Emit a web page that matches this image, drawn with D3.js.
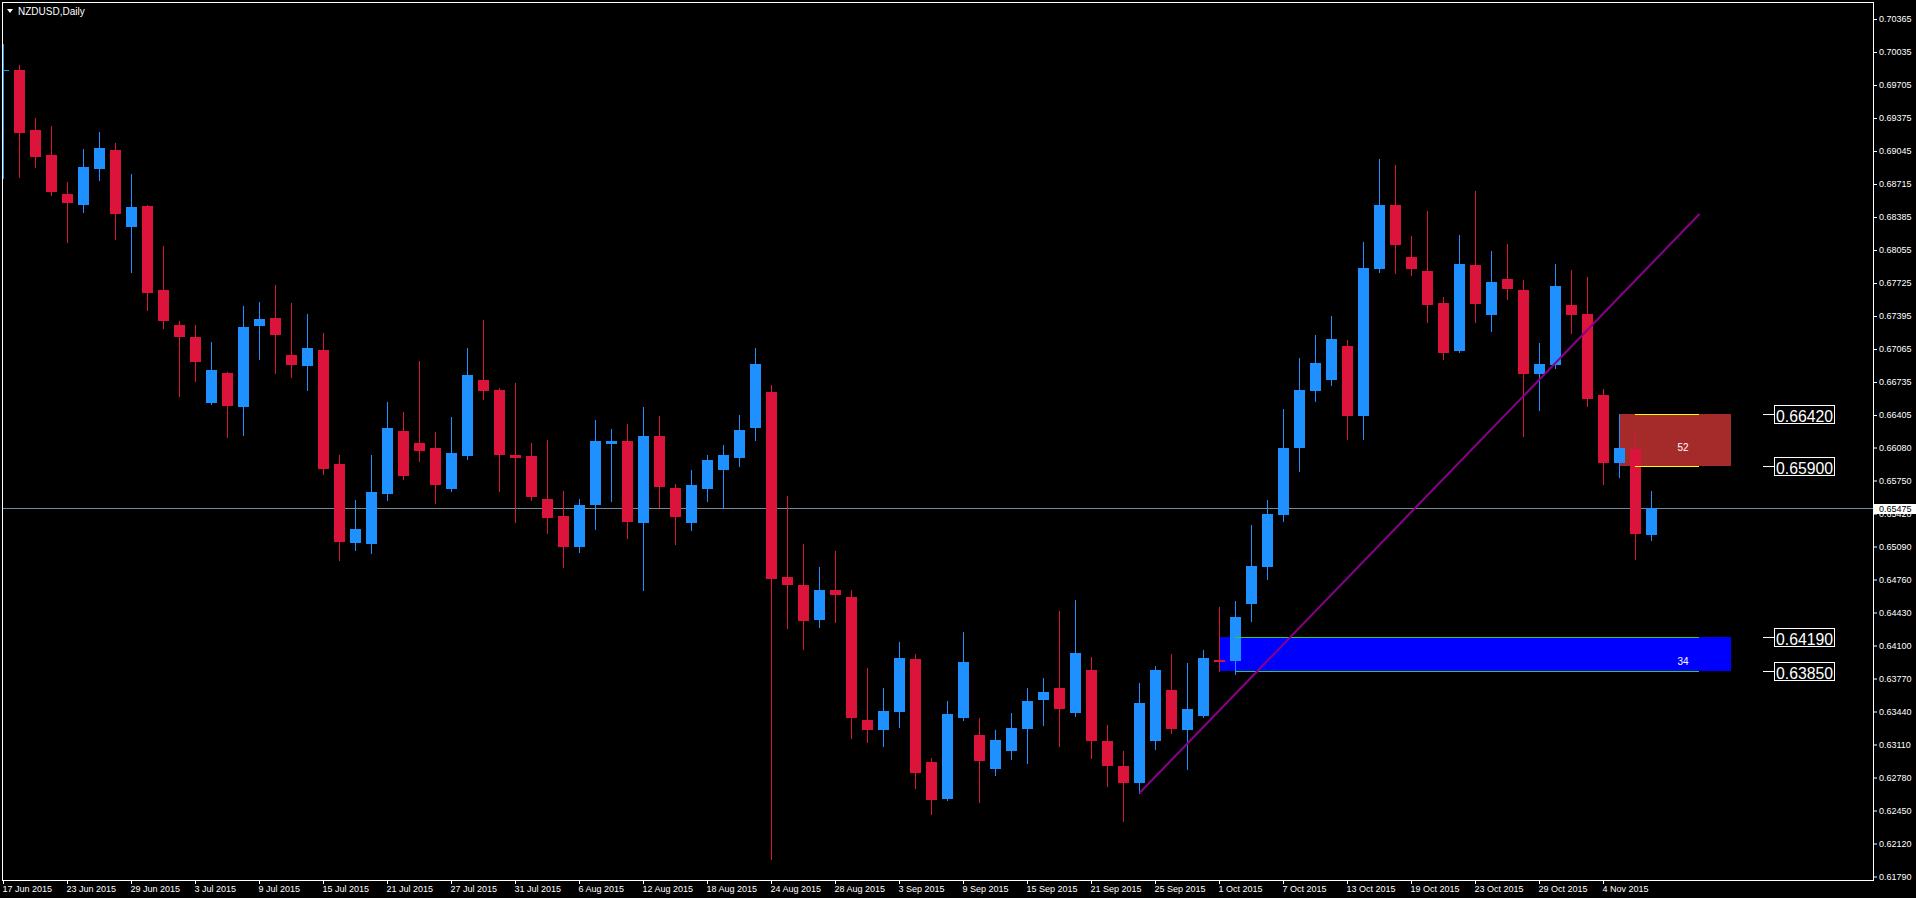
<!DOCTYPE html>
<html><head><meta charset="utf-8">
<script src="https://cdn.jsdelivr.net/npm/d3@7"></script>
<style>html,body{margin:0;padding:0;background:#000;overflow:hidden}svg{display:block}</style>
</head><body><svg id="c" width="1916" height="898"></svg>
<script>
const dates = [
"2015-06-17","2015-06-18","2015-06-19","2015-06-22","2015-06-23","2015-06-24","2015-06-25","2015-06-26","2015-06-29","2015-06-30",
"2015-07-01","2015-07-02","2015-07-03","2015-07-06","2015-07-07","2015-07-08","2015-07-09","2015-07-10","2015-07-13","2015-07-14",
"2015-07-15","2015-07-16","2015-07-17","2015-07-20","2015-07-21","2015-07-22","2015-07-23","2015-07-24","2015-07-27","2015-07-28",
"2015-07-29","2015-07-30","2015-07-31","2015-08-03","2015-08-04","2015-08-05","2015-08-06","2015-08-07","2015-08-10","2015-08-11",
"2015-08-12","2015-08-13","2015-08-14","2015-08-17","2015-08-18","2015-08-19","2015-08-20","2015-08-21","2015-08-24","2015-08-25",
"2015-08-26","2015-08-27","2015-08-28","2015-08-31","2015-09-01","2015-09-02","2015-09-03","2015-09-04","2015-09-07","2015-09-08",
"2015-09-09","2015-09-10","2015-09-11","2015-09-14","2015-09-15","2015-09-16","2015-09-17","2015-09-18","2015-09-21","2015-09-22",
"2015-09-23","2015-09-24","2015-09-25","2015-09-28","2015-09-29","2015-09-30","2015-10-01","2015-10-02","2015-10-05","2015-10-06",
"2015-10-07","2015-10-08","2015-10-09","2015-10-12","2015-10-13","2015-10-14","2015-10-15","2015-10-16","2015-10-19","2015-10-20",
"2015-10-21","2015-10-22","2015-10-23","2015-10-26","2015-10-27","2015-10-28","2015-10-29","2015-10-30","2015-11-02","2015-11-03",
"2015-11-04","2015-11-05","2015-11-06","2015-11-09"];

const opens = [
0.69850,0.69855,0.69255,0.69005,0.68615,0.68508,0.68868,0.69055,0.68288,0.68495,
0.67655,0.67305,0.67185,0.66528,0.66825,0.66483,0.67298,0.67375,0.67005,0.66898,
0.67055,0.65915,0.65128,0.65118,0.65618,0.66245,0.66125,0.66075,0.65665,0.65995,
0.66755,0.66655,0.66005,0.65995,0.65565,0.65395,0.65085,0.65505,0.66115,0.66145,
0.65325,0.66195,0.65675,0.65325,0.65665,0.65855,0.65975,0.66275,0.66635,0.64785,
0.64705,0.64355,0.64655,0.64585,0.63355,0.63255,0.63435,0.63965,0.62935,0.62565,
0.63375,0.63205,0.62865,0.63045,0.63265,0.63555,0.63675,0.63425,0.63855,0.63145,
0.62895,0.62725,0.63145,0.63655,0.63255,0.63395,0.63955,0.63945,0.64515,0.64885,
0.65405,0.66075,0.66645,0.66755,0.67095,0.66395,0.67865,0.68505,0.67985,0.67845,
0.67525,0.67045,0.67905,0.67405,0.67765,0.67655,0.66815,0.66905,0.67505,0.67415,
0.66605,0.65925,0.66065,0.65205];

const highs = [
0.70115,0.69905,0.69375,0.69295,0.68735,0.69065,0.69235,0.69125,0.68815,0.68505,
0.68095,0.67345,0.67305,0.67135,0.66835,0.67495,0.67535,0.67705,0.67525,0.67415,
0.67225,0.66005,0.65555,0.66005,0.66535,0.66435,0.66945,0.66235,0.66385,0.67075,
0.67355,0.66675,0.66725,0.66125,0.66155,0.65645,0.65565,0.66355,0.66265,0.66315,
0.66485,0.66395,0.65715,0.65855,0.66005,0.66105,0.66405,0.67075,0.66705,0.65595,
0.65115,0.64885,0.65045,0.64655,0.63875,0.63675,0.64135,0.64015,0.62975,0.63545,
0.64235,0.63375,0.63255,0.63425,0.63675,0.63775,0.64445,0.64555,0.63985,0.63305,
0.63045,0.63725,0.63895,0.64015,0.63925,0.64055,0.64485,0.64545,0.65305,0.65555,
0.66465,0.66975,0.67205,0.67395,0.67155,0.68135,0.68965,0.68905,0.68195,0.68445,
0.67585,0.68205,0.68645,0.68045,0.68115,0.67755,0.67125,0.67915,0.67855,0.67785,
0.66665,0.66415,0.66245,0.65645];

const lows = [
0.68775,0.68788,0.68888,0.68605,0.68138,0.68438,0.68755,0.68165,0.67838,0.67455,
0.67278,0.66595,0.66748,0.66515,0.66188,0.66208,0.66968,0.66828,0.66788,0.66658,
0.65815,0.64955,0.65055,0.65028,0.65555,0.65768,0.65948,0.65528,0.65648,0.65965,
0.66565,0.65648,0.65335,0.65555,0.65225,0.64885,0.65035,0.65265,0.65545,0.65175,
0.64655,0.65485,0.65115,0.65255,0.65545,0.65475,0.65895,0.66155,0.61965,0.64275,
0.64065,0.64285,0.64335,0.63175,0.63135,0.63095,0.63285,0.62675,0.62415,0.62555,
0.63355,0.62535,0.62805,0.62965,0.62925,0.63305,0.63095,0.63395,0.62975,0.62695,
0.62345,0.62625,0.63065,0.63225,0.62865,0.63385,0.63845,0.63815,0.64345,0.64765,
0.65345,0.65845,0.66545,0.66705,0.66165,0.66165,0.67835,0.67825,0.67805,0.67335,
0.66965,0.67035,0.67335,0.67245,0.67565,0.66195,0.66455,0.66875,0.67225,0.66495,
0.65715,0.65785,0.64965,0.65155];

const closes = [
0.69855,0.69228,0.68988,0.68638,0.68528,0.68885,0.69075,0.68418,0.68485,0.67628,
0.67348,0.67188,0.66938,0.66855,0.66498,0.67285,0.67365,0.67208,0.66908,0.67075,
0.65865,0.65138,0.65265,0.65635,0.66275,0.65798,0.66048,0.65708,0.66025,0.66805,
0.66645,0.66005,0.65975,0.65585,0.65375,0.65085,0.65505,0.66145,0.66145,0.65335,
0.66195,0.65685,0.65385,0.65705,0.65955,0.66005,0.66255,0.66915,0.64765,0.64705,
0.64345,0.64655,0.64605,0.63375,0.63255,0.63445,0.63975,0.62825,0.62555,0.63415,
0.63935,0.62945,0.63155,0.63275,0.63545,0.63635,0.63465,0.64025,0.63145,0.62895,
0.62725,0.63525,0.63855,0.63265,0.63465,0.63975,0.63935,0.64385,0.64895,0.65415,
0.66075,0.66655,0.66925,0.67165,0.66395,0.67875,0.68505,0.68105,0.67865,0.67505,
0.67025,0.67915,0.67515,0.67735,0.67665,0.66815,0.66915,0.67695,0.67405,0.66565,
0.65925,0.66075,0.65215,0.65475];

const yTickValues = [0.70365,0.70035,0.69705,0.69375,0.69045,0.68715,0.68385,0.68055,0.67725,0.67395,
0.67065,0.66735,0.66405,0.66080,0.65750,0.65420,0.65090,0.64760,0.64430,0.64100,0.63770,0.63440,
0.63110,0.62780,0.62450,0.62120,0.61790];

const xTickLabels = ["17 Jun 2015","23 Jun 2015","29 Jun 2015","3 Jul 2015","9 Jul 2015","15 Jul 2015",
"21 Jul 2015","27 Jul 2015","31 Jul 2015","6 Aug 2015","12 Aug 2015","18 Aug 2015","24 Aug 2015",
"28 Aug 2015","3 Sep 2015","9 Sep 2015","15 Sep 2015","21 Sep 2015","25 Sep 2015","1 Oct 2015",
"7 Oct 2015","13 Oct 2015","19 Oct 2015","23 Oct 2015","29 Oct 2015","4 Nov 2015"];

const symbolTitle = "NZDUSD,Daily";
const bidPrice = 0.65475;
// zones: [fromIndex, toIndex, topPrice, bottomPrice]
const supplyZone = [101, 108, 0.66420, 0.65900];
const demandZone = [76, 108, 0.64190, 0.63850];
const supplyLabel = "52", demandLabel = "34";
const supplyLabelPrice = 0.66045, demandLabelPrice = 0.63905;
const zoneLabelIndex = 105;
const supplyLineRange = [102, 106];
const demandLineRange = [77, 106];
// trendline anchors: [index, price]
const trendStart = [71, 0.62625], trendEnd = [106, 0.68415];
const priceLabels = [0.66420, 0.65900, 0.64190, 0.63850];
const priceLabelIndex = 110;

const svg = d3.select("#c");
const L = 2, T = 2, R = 1873, B = 880;
const x = d3.scaleLinear().domain([0, 100]).range([3, 1603]);
const y = d3.scaleLinear().domain([0.61755, 0.70535]).range([B, T]);
const FONT = "'Liberation Sans', Arial, sans-serif";
const UP = "#1E90FF", DOWN = "#DC143C";

svg.append("rect").attr("width", 1916).attr("height", 898).attr("fill", "#000");

svg.append("defs").append("clipPath").attr("id", "plot")
  .append("rect").attr("x", L + 1).attr("y", T + 1).attr("width", R - L - 1).attr("height", B - T - 1);

const plot = svg.append("g").attr("clip-path", "url(#plot)");

function zone(z, color) {
  plot.append("rect")
    .attr("x", Math.round(x(z[0])))
    .attr("y", Math.round(y(z[2])))
    .attr("width", Math.round(x(z[1])) - Math.round(x(z[0])))
    .attr("height", Math.round(y(z[3])) - Math.round(y(z[2])))
    .attr("fill", color);
}
zone(supplyZone, "#A52A2A");
zone(demandZone, "#0000FF");

plot.append("line")
  .attr("x1", L).attr("x2", R)
  .attr("y1", Math.round(y(bidPrice)) + 0.5).attr("y2", Math.round(y(bidPrice)) + 0.5)
  .attr("stroke", "#778899").attr("stroke-width", 1);

const idx = d3.range(dates.length);
const cg = plot.append("g");
cg.selectAll("line.wick").data(idx).join("line")
  .attr("class", "wick")
  .attr("x1", i => Math.round(x(i)) + 0.5).attr("x2", i => Math.round(x(i)) + 0.5)
  .attr("y1", i => Math.round(y(highs[i]))).attr("y2", i => Math.round(y(lows[i])) + 1)
  .attr("stroke", i => closes[i] >= opens[i] ? UP : DOWN)
  .attr("stroke-width", 1);
cg.selectAll("rect.body").data(idx).join("rect")
  .attr("class", "body")
  .attr("x", i => Math.round(x(i)) - 5)
  .attr("width", 11)
  .attr("y", i => Math.round(y(Math.max(opens[i], closes[i]))))
  .attr("height", i => Math.max(1, Math.round(y(Math.min(opens[i], closes[i]))) - Math.round(y(Math.max(opens[i], closes[i])))))
  .attr("fill", i => closes[i] >= opens[i] ? UP : DOWN)
  .attr("shape-rendering", "crispEdges");

function hline(r, p, color) {
  plot.append("line")
    .attr("x1", Math.round(x(r[0]))).attr("x2", Math.round(x(r[1])))
    .attr("y1", Math.round(y(p)) + 0.5).attr("y2", Math.round(y(p)) + 0.5)
    .attr("stroke", color).attr("stroke-width", 1);
}
hline(supplyLineRange, supplyZone[2], "#FFFF00");
hline(supplyLineRange, supplyZone[3], "#FFFF00");
hline(demandLineRange, demandZone[2], "#32CD32");
hline(demandLineRange, demandZone[3], "#32CD32");

plot.append("line")
  .attr("x1", x(trendStart[0]) + 0.5).attr("y1", y(trendStart[1]))
  .attr("x2", x(trendEnd[0]) + 0.5).attr("y2", y(trendEnd[1]))
  .attr("stroke", "#8B008B").attr("stroke-width", 2);

plot.append("text").attr("x", x(zoneLabelIndex)).attr("y", y(supplyLabelPrice))
  .attr("text-anchor", "middle").attr("fill", "#fff").attr("font-family", FONT).attr("font-size", 10)
  .text(supplyLabel);
plot.append("text").attr("x", x(zoneLabelIndex)).attr("y", y(demandLabelPrice))
  .attr("text-anchor", "middle").attr("fill", "#fff").attr("font-family", FONT).attr("font-size", 10)
  .text(demandLabel);

const pl = plot.append("g");
priceLabels.forEach(p => {
  const yy = Math.round(y(p)) + 0.5;
  const x0 = Math.round(x(priceLabelIndex));
  pl.append("line").attr("x1", x0).attr("x2", x0 + 12).attr("y1", yy).attr("y2", yy)
    .attr("stroke", "#fff").attr("stroke-width", 1);
  pl.append("rect").attr("x", x0 + 11.5).attr("y", yy - 9).attr("width", 60).attr("height", 18)
    .attr("fill", "#000").attr("stroke", "#fff").attr("stroke-width", 1);
  pl.append("text").attr("x", x0 + 13).attr("y", yy + 7)
    .attr("fill", "#fff").attr("font-family", FONT).attr("font-size", 17)
    .attr("textLength", 57).attr("lengthAdjust", "spacingAndGlyphs")
    .text(d3.format(".5f")(p));
});

svg.append("rect").attr("x", L + 0.5).attr("y", T + 0.5).attr("width", R - L).attr("height", B - T)
  .attr("fill", "none").attr("stroke", "#fff").attr("stroke-width", 1);

const yAxis = svg.append("g").attr("transform", `translate(${R + 1},0)`)
  .call(d3.axisRight(y).tickValues(yTickValues).tickFormat(d3.format(".5f")).tickSize(3).tickSizeOuter(0).tickPadding(2));
yAxis.select(".domain").remove();
yAxis.selectAll("line").attr("stroke", "#fff");
yAxis.selectAll("text").attr("fill", "#fff").attr("font-family", FONT).attr("font-size", 9);

const by = Math.round(y(bidPrice));
svg.append("rect").attr("x", R + 1).attr("y", by - 4).attr("width", 1916 - R - 1).attr("height", 10).attr("fill", "#fff");
svg.append("text").attr("x", R + 6).attr("y", by + 4).attr("fill", "#000")
  .attr("font-family", FONT).attr("font-size", 9).text(d3.format(".5f")(bidPrice));

const fmt = d3.timeFormat("%-d %b %Y"), parse = d3.timeParse("%Y-%m-%d");
const labelToIdx = new Map(dates.map((d, i) => [fmt(parse(d)), i]));
const xTickIdx = xTickLabels.map(l => labelToIdx.get(l));
const xAxis = svg.append("g").attr("transform", `translate(0,${B + 1})`)
  .call(d3.axisBottom(x).tickValues(xTickIdx).tickFormat(i => fmt(parse(dates[i]))).tickSize(3).tickSizeOuter(0).tickPadding(2));
xAxis.select(".domain").remove();
xAxis.selectAll("line").attr("stroke", "#fff");
xAxis.selectAll("text").attr("fill", "#fff").attr("font-family", FONT).attr("font-size", 9)
  .attr("text-anchor", "start").attr("x", -1);

svg.append("path").attr("d", "M7,9 L13,9 L10,13 Z").attr("fill", "#fff");
svg.append("text").attr("x", 18).attr("y", 14.5).attr("fill", "#fff")
  .attr("font-family", FONT).attr("font-size", 10).text(symbolTitle);
</script>
</body></html>
